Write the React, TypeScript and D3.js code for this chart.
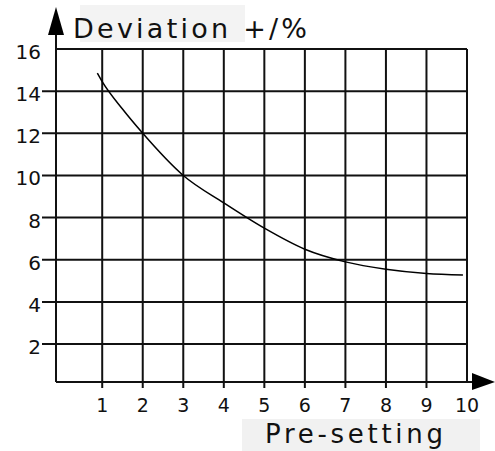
import React from "react";
import * as d3 from "d3";

const xTicks = [1, 2, 3, 4, 5, 6, 7, 8, 9, 10];
const yTicks = [2, 4, 6, 8, 10, 12, 14, 16];
const curveX = [0.88, 1, 1.5, 2, 3, 4, 5, 6, 7, 8, 9, 9.9];
const curveY = [14.85, 14.45, 13.15, 12.0, 10.0, 8.7, 7.5, 6.5, 5.9, 5.55, 5.35, 5.28];
const yTitle = "Deviation +/%";
const xTitle = "Pre-setting";

const W = 495;
const H = 451;
const left = 56;
const right = 467;
const top = 49;
const bottom = 382;

export default function App() {
  const x = d3.scaleLinear().domain([-0.14, 10]).range([left, right]);
  const y = d3.scaleLinear().domain([0.2, 16]).range([bottom, top]);
  const pts: [number, number][] = curveX.map((v, i) => [v, curveY[i]]);
  const line = d3
    .line<[number, number]>()
    .x((d) => x(d[0]))
    .y((d) => y(d[1]))
    .curve(d3.curveMonotoneX);
  const font = "'DejaVu Sans', Verdana, sans-serif";
  const stroke = "#111";
  return (
    <svg
      width={W}
      height={H}
      style={{ position: "absolute", left: 0, top: 0, background: "#fff" }}
      fontFamily={font}
    >
      {/* faint label backgrounds */}
      <rect x={80} y={5} width={165} height={37} fill="#f3f3f3" />
      <rect x={242} y={419} width={238} height={32} fill="#f1f1f1" />

      {/* horizontal grid lines */}
      {yTicks.map((t) => (
        <line
          key={"h" + t}
          x1={t === 16 ? left : 42}
          x2={right}
          y1={y(t)}
          y2={y(t)}
          stroke={stroke}
          strokeWidth={2}
        />
      ))}
      {/* vertical grid lines */}
      {xTicks.map((t) => (
        <line
          key={"v" + t}
          x1={x(t)}
          x2={x(t)}
          y1={top}
          y2={t === 10 ? bottom : bottom + 6}
          stroke={stroke}
          strokeWidth={2}
        />
      ))}
      {/* y axis */}
      <line x1={left} x2={left} y1={30} y2={bottom} stroke={stroke} strokeWidth={2} />
      <path d={`M${left},7 L${left + 8},35 L${left - 8},35 Z`} fill="#000" />
      {/* x axis */}
      <line x1={left} x2={480} y1={bottom} y2={bottom} stroke={stroke} strokeWidth={2} />
      <path d={`M472,373 L495,382 L472,390 Z`} fill="#000" />

      {/* curve */}
      <path d={line(pts) || ""} fill="none" stroke="#000" strokeWidth={1.5} />

      {/* y tick labels */}
      {yTicks.map((t) => (
        <text
          key={"yl" + t}
          x={41}
          y={y(t) + 10}
          textAnchor="end"
          fontSize={20}
          fill="#111"
        >
          {t}
        </text>
      ))}
      {/* x tick labels */}
      {xTicks.map((t) => (
        <text
          key={"xl" + t}
          x={x(t)}
          y={412}
          textAnchor="middle"
          fontSize={19}
          fill="#111"
        >
          {t}
        </text>
      ))}

      {/* titles */}
      <text x={73} y={38} fontSize={27} textLength={234} lengthAdjust="spacing" fill="#111">
        {yTitle}
      </text>
      <text x={265} y={443} fontSize={26} textLength={178} lengthAdjust="spacing" fill="#111">
        {xTitle}
      </text>
    </svg>
  );
}
